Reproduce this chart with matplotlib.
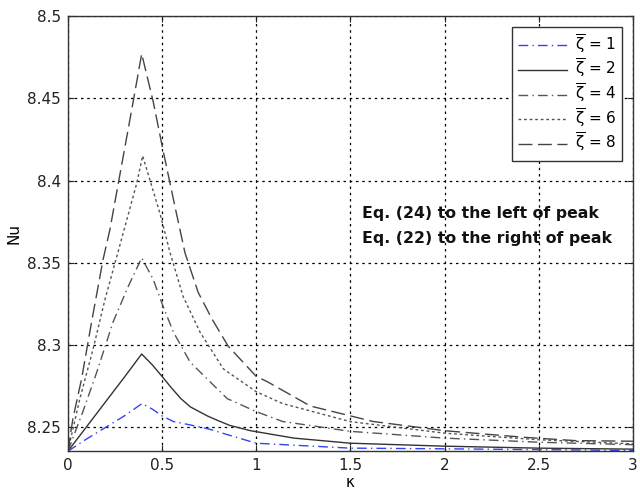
import matplotlib
matplotlib.use("Agg")
import matplotlib.pyplot as plt

plt.rcParams['font.family'] = ['DejaVu Sans']
plt.rcParams['mathtext.fontset'] = 'dejavusans'

# zeta = 1 (blue dash-dot)
x1 = [0, 0.1, 0.2, 0.3, 0.394, 0.45, 0.5, 0.56, 0.65, 0.75, 0.85, 1.0, 1.5, 2.0, 2.5, 3.0]
y1 = [8.2355, 8.243, 8.250, 8.257, 8.2645, 8.261, 8.257, 8.2536, 8.2515, 8.249, 8.2455, 8.2404, 8.2374, 8.237, 8.2365, 8.236]
# zeta = 2 (solid)
x2 = [0, 0.1, 0.2, 0.3, 0.392, 0.45, 0.5, 0.55, 0.6, 0.65, 0.74, 0.8, 0.86, 0.97, 1.2, 1.5, 2.0, 2.5, 3.0]
y2 = [8.2355, 8.2505, 8.2655, 8.2805, 8.2946, 8.2878, 8.281, 8.274, 8.2675, 8.2625, 8.257, 8.254, 8.2512, 8.248, 8.2435, 8.2404, 8.2386, 8.2374, 8.2368]
# zeta = 4 (gray dash-dot)
x4 = [0, 0.08, 0.154, 0.24, 0.32, 0.392, 0.453, 0.506, 0.56, 0.649, 0.739, 0.846, 1.0, 1.14, 1.5, 2.0, 2.5, 3.0]
y4 = [8.2355, 8.2596, 8.2837, 8.314, 8.3355, 8.353, 8.34, 8.3234, 8.308, 8.2897, 8.2795, 8.2675, 8.2596, 8.2536, 8.2476, 8.2435, 8.241, 8.2395]
# zeta = 6 (dotted)
x6 = [0, 0.064, 0.134, 0.197, 0.277, 0.365, 0.397, 0.489, 0.543, 0.612, 0.702, 0.826, 1.0, 1.14, 1.5, 2.0, 2.5, 3.0]
y6 = [8.2355, 8.2675, 8.2976, 8.3277, 8.361, 8.398, 8.415, 8.380, 8.356, 8.3295, 8.3078, 8.2855, 8.2717, 8.2645, 8.2535, 8.2465, 8.2425, 8.240]
# zeta = 8 (long dashed)
x8 = [0, 0.027, 0.073, 0.126, 0.187, 0.223, 0.277, 0.347, 0.392, 0.453, 0.506, 0.569, 0.622, 0.692, 0.766, 0.851, 1.0, 1.06, 1.287, 1.5, 1.62, 2.0, 2.42, 2.69, 3.0]
y8 = [8.2355, 8.2554, 8.2795, 8.314, 8.352, 8.370, 8.404, 8.448, 8.477, 8.448, 8.418, 8.384, 8.356, 8.332, 8.3157, 8.2994, 8.281, 8.2777, 8.263, 8.257, 8.2536, 8.248, 8.244, 8.242, 8.2416]

labels = [r'$\overline{\mathrm{\zeta}}$ = 1', r'$\overline{\mathrm{\zeta}}$ = 2', r'$\overline{\mathrm{\zeta}}$ = 4',
          r'$\overline{\mathrm{\zeta}}$ = 6', r'$\overline{\mathrm{\zeta}}$ = 8']
xticks = [0, 0.5, 1, 1.5, 2, 2.5, 3]
xticklabels = ['0', '0.5', '1', '1.5', '2', '2.5', '3']
yticks = [8.25, 8.3, 8.35, 8.4, 8.45, 8.5]
yticklabels = ['8.25', '8.3', '8.35', '8.4', '8.45', '8.5']

fig = plt.figure(figsize=(6.4, 4.97), dpi=100)
ax = fig.add_axes([0.106, 0.092, 0.883, 0.876])

ax.plot(x1, y1, color='#3344ee', lw=1.0, linestyle=(0, (7, 3, 1, 3)), label=labels[0])
ax.plot(x2, y2, color='#333333', lw=1.0, linestyle='-', label=labels[1])
ax.plot(x4, y4, color='#555555', lw=1.0, linestyle=(0, (7, 3, 1, 3)), label=labels[2])
ax.plot(x6, y6, color='#555555', lw=1.0, linestyle=(0, (2, 2)), label=labels[3])
ax.plot(x8, y8, color='#444444', lw=1.0, linestyle=(0, (10, 4)), label=labels[4])

ax.set_xlim(0, 3)
ax.set_ylim(8.2355, 8.5)
ax.set_xticks(xticks)
ax.set_xticklabels(xticklabels)
ax.set_yticks(yticks)
ax.set_yticklabels(yticklabels)
ax.tick_params(direction='in', top=True, right=True, labelsize=11, length=4,
               colors='#222222', pad=5)
ax.grid(True, color='black', linestyle=(0, (2, 3)), lw=0.9)
for s in ax.spines.values():
    s.set_color('#333333')
    s.set_linewidth(1.0)

ax.set_xlabel('κ', fontsize=11, labelpad=1)
ax.set_ylabel('Nu', fontsize=11, labelpad=4)

leg = ax.legend(loc='upper right', fontsize=11, frameon=True, fancybox=False,
                edgecolor='#333333', framealpha=1, handlelength=3.2,
                borderaxespad=0.7, labelspacing=0.1, borderpad=0.4,
                handletextpad=0.5)
leg.get_frame().set_linewidth(1.0)

ax.text(1.56, 8.3722, 'Eq. (24) to the left of peak\nEq. (22) to the right of peak',
        fontsize=11.3, fontweight='bold', va='center', ha='left', linespacing=1.8,
        color='#111111')

fig.savefig('out.png', dpi=100)
